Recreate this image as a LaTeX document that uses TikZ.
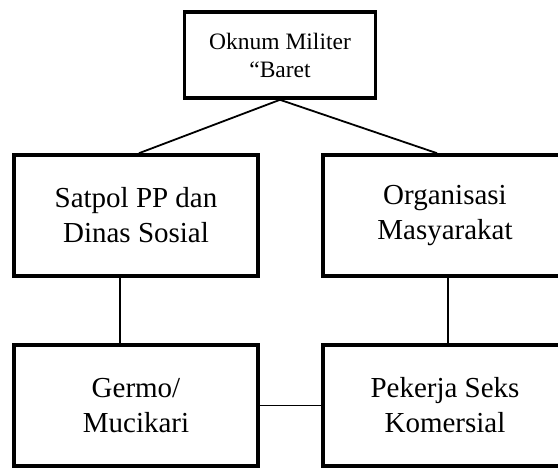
\documentclass[tikz,border=0pt]{standalone}
\usepackage{fontspec}
\setmainfont{Liberation Serif}
\begin{document}
\begin{tikzpicture}[x=1pt,y=-1pt,
  box/.style={draw=black, line width=3.6pt, fill=white, inner sep=0pt, align=center},
  topbox/.style={box, minimum width=191pt, minimum height=86pt, font=\fontsize{23.5}{28}\selectfont},
  bigbox/.style={box, minimum width=244pt, minimum height=121pt, font=\fontsize{29}{35}\selectfont},
  link/.style={draw=black, line width=1.8pt}]
\path[use as bounding box, clip] (0,0) rectangle (558,468);
\node[topbox] (top) at (280,55) {Oknum Militer\\“Baret};
\node[bigbox] (ml) at (136,215.5) {Satpol PP dan\\Dinas Sosial};
\node[bigbox] (mr) at (445,215.5) {Organisasi\\Masyarakat};
\node[bigbox] (bl) at (136,405.5) {Germo/\\Mucikari};
\node[bigbox] (br) at (445,405.5) {Pekerja Seks\\Komersial};
\draw[link] (top.south) -- ([xshift=3pt]ml.north);
\draw[link] (top.south) -- ([xshift=-8pt]mr.north);
\draw[link] ([xshift=-16pt]ml.south) -- ([xshift=-16pt]bl.north);
\draw[link] ([xshift=3pt]mr.south) -- ([xshift=3pt]br.north);
\draw[link] (bl.east) -- (br.west);
\end{tikzpicture}
\end{document}
